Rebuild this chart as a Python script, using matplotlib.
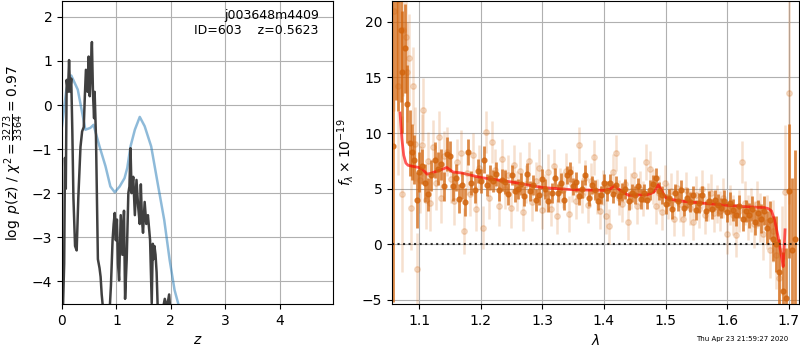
import matplotlib
matplotlib.use("Agg")
import matplotlib.pyplot as plt

# ---- p(z) panel ----
z_fit = [0.0, 0.08, 0.17, 0.29, 0.43, 0.52, 0.58, 0.69, 0.80, 0.89, 0.97, 1.06, 1.15,
         1.20, 1.26, 1.34, 1.43, 1.52, 1.64, 1.77, 1.88, 1.98, 2.07, 2.14, 2.20]
lnp_fit = [-0.48, 0.35, 0.67, 0.35, -0.56, -0.52, -0.45, -0.94, -1.39, -1.85, -1.98, -1.85, -1.66,
           -1.43, -0.94, -0.56, -0.27, -0.48, -0.94, -1.85, -2.61, -3.52, -4.2, -4.52, -5.0]

z_grid = [0.0, 0.02, 0.04, 0.055, 0.07, 0.086, 0.11, 0.13, 0.15, 0.17, 0.19, 0.21, 0.24, 0.27,
          0.30, 0.34, 0.37, 0.40, 0.42, 0.44, 0.47, 0.49, 0.51, 0.53, 0.55, 0.57, 0.59, 0.60,
          0.625, 0.66, 0.69, 0.71, 0.73, 0.76, 0.80, 0.84, 0.87, 0.90, 0.93, 0.95, 0.97, 0.99,
          1.01, 1.03, 1.05, 1.08, 1.11, 1.14, 1.16, 1.19, 1.22, 1.24, 1.26, 1.28, 1.31, 1.34,
          1.37, 1.40, 1.43, 1.45, 1.47, 1.49, 1.52, 1.55, 1.58, 1.62, 1.65, 1.67, 1.68, 1.70,
          1.72, 1.74, 1.76, 1.79, 1.83, 1.86, 1.89, 1.93, 1.97, 2.00]
lnp_grid = [-5.0, -4.5, -3.6, -1.2, -1.9, 0.57, 0.3, 1.02, 0.3, 0.6, -0.6, -2.1, -3.2, -3.3,
            -2.1, -0.95, -0.6, -0.5, 0.2, 0.8, 0.3, 1.1, 0.2, 0.8, 1.43, 0.25, -0.3, 0.3,
            -0.73, -3.5, -3.7, -3.9, -4.3, -4.7, -5.0, -5.0, -4.8, -4.1, -3.07, -2.7, -2.45, -3.07,
            -2.6, -3.6, -3.98, -2.5, -3.4, -2.4, -4.4, -3.5, -2.0, -1.85, -0.98, -2.0, -1.63, -2.5,
            -1.7, -2.3, -2.7, -1.8, -2.6, -2.9, -2.2, -2.7, -2.5, -3.07, -4.5, -3.15, -3.5, -3.2,
            -3.4, -3.8, -4.6, -5.0, -5.0, -4.6, -4.4, -4.6, -4.3, -4.8]

# ---- spectrum panel ----
wave_bin = [1.058, 1.062, 1.066, 1.070, 1.073, 1.077, 1.081, 1.085, 1.088, 1.092, 1.096,
            1.100, 1.105, 1.110, 1.115, 1.120, 1.125, 1.130, 1.135, 1.140, 1.145, 1.150,
            1.155, 1.160, 1.165, 1.170, 1.175, 1.180, 1.185, 1.190, 1.195, 1.200, 1.205,
            1.210, 1.215, 1.220, 1.225, 1.230, 1.235, 1.240, 1.245, 1.250, 1.255, 1.260,
            1.265, 1.270, 1.275, 1.280, 1.285, 1.290, 1.295, 1.300, 1.305, 1.310, 1.315,
            1.320, 1.325, 1.330, 1.335, 1.340, 1.345, 1.350, 1.355, 1.360, 1.365, 1.370,
            1.375, 1.380, 1.385, 1.390, 1.395, 1.400, 1.405, 1.410, 1.415, 1.420, 1.425,
            1.430, 1.435, 1.440, 1.445, 1.450, 1.455, 1.460, 1.465, 1.470, 1.475, 1.480,
            1.485, 1.490, 1.495, 1.500, 1.505, 1.510, 1.515, 1.520, 1.525, 1.530, 1.535,
            1.540, 1.545, 1.550, 1.555, 1.560, 1.565, 1.570, 1.575, 1.580, 1.585, 1.590,
            1.595, 1.600, 1.605, 1.610, 1.615, 1.620, 1.625, 1.630, 1.635, 1.640, 1.645,
            1.650, 1.655, 1.660, 1.665, 1.670, 1.675, 1.680, 1.685, 1.690, 1.695, 1.700,
            1.705, 1.710]
flux_bin = [8.8, 25.0, 22.0, 19.3, 15.5, 17.6, 12.6, 9.1, 8.3, 7.6, 4.0,
            6.5, 7.0, 5.5, 4.5, 6.2, 7.6, 6.8, 7.2, 5.2, 8.1, 7.9,
            5.2, 6.0, 4.1, 5.3, 3.8, 8.3, 5.5, 4.9, 6.6, 5.7, 7.6,
            5.3, 6.0, 5.7, 6.3, 4.9, 5.8, 5.6, 4.5, 6.2, 4.8, 5.0,
            5.4, 4.3, 6.3, 4.8, 5.3, 4.0, 4.4, 5.9, 5.0, 3.9, 4.6,
            6.0, 4.6, 5.5, 4.0, 6.2, 6.5, 5.2, 5.6, 4.3, 5.0, 6.2,
            4.2, 5.3, 4.9, 3.9, 4.4, 5.5, 4.8, 5.5, 4.5, 5.3, 4.3,
            4.7, 5.0, 3.9, 4.6, 4.4, 5.2, 4.1, 4.6, 4.0, 4.9, 5.4,
            6.0, 4.8, 4.4, 3.6, 4.2, 3.2, 4.6, 3.9, 4.9, 3.3, 4.2,
            3.8, 4.4, 3.1, 3.7, 4.4, 3.0, 3.9, 3.2, 4.0, 3.5, 3.3,
            3.9, 2.9, 3.7, 3.1, 2.6, 3.4, 2.3, 3.0, 2.6, 3.2, 2.0,
            2.8, 2.3, 3.0, 1.5, 2.2, 0.5, 0.0, -2.5, -4.2, -4.8, 4.8,
            -0.5, 0.5]
err_bin = [14.0, 12.0, 10.0, 6.5, 5.5, 4.0, 3.5, 3.0, 2.5, 2.2, 2.5,
           1.8, 1.6, 1.7, 1.5, 1.4, 1.6, 1.5, 1.4, 1.3, 1.5, 1.4,
           1.3, 1.2, 1.3, 1.2, 1.3, 1.2, 1.1, 1.2, 1.1, 1.1, 1.2,
           1.0, 1.1, 1.0, 1.1, 1.0, 1.0, 1.1, 1.0, 0.9, 1.0, 0.9,
           1.0, 0.9, 1.0, 0.9, 0.9, 1.0, 0.9, 0.9, 0.9, 1.0, 0.9,
           0.9, 0.8, 0.9, 0.9, 0.8, 0.9, 0.8, 0.9, 0.8, 0.8, 0.9,
           0.8, 0.8, 0.9, 0.8, 0.8, 0.8, 0.9, 0.8, 0.8, 0.8, 0.8,
           0.8, 0.9, 0.8, 0.8, 0.8, 0.8, 0.9, 0.8, 0.8, 0.9, 0.8,
           0.9, 0.8, 0.8, 0.9, 0.8, 0.9, 0.8, 0.9, 0.9, 0.8, 0.9,
           0.9, 0.8, 0.9, 0.9, 0.8, 0.9, 0.9, 0.9, 0.9, 1.0, 0.9,
           1.0, 0.9, 1.0, 1.0, 1.0, 1.0, 1.1, 1.0, 1.1, 1.1, 1.2,
           1.2, 1.3, 1.3, 1.5, 1.7, 2.0, 2.5, 3.0, 3.5, 4.5, 6.0,
           6.5, 8.0]

wave_raw = [1.060, 1.066, 1.072, 1.074, 1.078, 1.080, 1.083, 1.087, 1.090, 1.094, 1.097,
            1.101, 1.104, 1.107, 1.111, 1.114, 1.118, 1.122, 1.127, 1.132, 1.136, 1.141,
            1.146, 1.151, 1.157, 1.162, 1.168, 1.173, 1.178, 1.183, 1.188, 1.193, 1.198,
            1.204, 1.209, 1.214, 1.219, 1.224, 1.229, 1.234, 1.239, 1.244, 1.249, 1.254,
            1.259, 1.264, 1.269, 1.274, 1.279, 1.284, 1.289, 1.294, 1.299, 1.304, 1.309,
            1.314, 1.319, 1.324, 1.329, 1.334, 1.339, 1.344, 1.349, 1.354, 1.359, 1.364,
            1.369, 1.374, 1.379, 1.384, 1.389, 1.394, 1.399, 1.404, 1.409, 1.414, 1.419,
            1.424, 1.429, 1.434, 1.439, 1.444, 1.449, 1.454, 1.459, 1.464, 1.469, 1.474,
            1.479, 1.484, 1.489, 1.494, 1.499, 1.504, 1.509, 1.514, 1.519, 1.524, 1.529,
            1.534, 1.539, 1.544, 1.549, 1.554, 1.559, 1.564, 1.569, 1.574, 1.579, 1.584,
            1.589, 1.594, 1.599, 1.604, 1.609, 1.614, 1.619, 1.624, 1.629, 1.634, 1.639,
            1.644, 1.649, 1.654, 1.659, 1.664, 1.669, 1.674, 1.679, 1.684, 1.689, 1.694,
            1.700]
flux_raw = [21.0, 14.2, 4.5, 19.3, 18.6, 15.5, 16.7, 3.3, 14.2, 9.0, -2.2,
            5.8, 8.9, 12.1, 4.0, 7.5, 3.7, 8.7, 5.5, 9.6, 4.2, 7.9,
            8.3, 5.9, 3.9, 7.4, 8.2, 1.2, 6.4, 4.5, 8.0, 3.2, 6.9,
            1.5, 10.1, 4.2, 9.2, 6.7, 3.4, 7.7, 5.0, 6.2, 3.3, 7.1,
            4.8, 6.6, 2.9, 5.4, 7.5, 3.8, 5.7, 6.9, 3.1, 4.6, 6.5,
            3.2, 7.0, 2.5, 5.3, 4.9, 6.6, 2.7, 5.4, 3.9, 8.9, 4.4,
            6.0, 3.5, 5.7, 7.8, 4.3, 3.0, 5.1, 2.5, 1.6, 6.5, 8.2,
            4.2, 3.6, 5.4, 2.0, 4.8, 6.2, 3.4, 5.0, 4.1, 7.4, 6.8,
            5.2, 3.4, 4.6, 2.9, 5.5, 3.9, 4.8, 2.3, 5.1, 3.6, 2.3,
            4.9, 3.3, 2.0, 4.4, 3.2, 5.0, 2.6, 3.8, 4.6, 2.8, 3.6,
            3.0, 4.2, 0.9, 3.5, 2.6, 0.8, 3.0, 7.4, 3.7, 2.4, 3.1,
            1.8, 3.6, 2.4, 0.9, 2.0, -0.5, 1.2, -1.0, -3.0, -0.6, 4.7,
            13.6]
err_raw = [9.0, 8.0, 7.0, 6.0, 5.0, 4.5, 4.0, 3.8, 3.5, 3.3, 3.2,
           3.0, 2.8, 2.8, 2.6, 2.6, 2.5, 2.5, 2.4, 2.4, 2.3, 2.3,
           2.2, 2.2, 2.2, 2.1, 2.1, 2.1, 2.0, 2.0, 2.0, 2.0, 2.0,
           1.9, 1.9, 1.9, 1.9, 1.9, 1.8, 1.8, 1.8, 1.8, 1.8, 1.8,
           1.8, 1.7, 1.7, 1.7, 1.7, 1.7, 1.7, 1.7, 1.7, 1.7, 1.6,
           1.6, 1.6, 1.6, 1.6, 1.6, 1.6, 1.6, 1.6, 1.6, 1.6, 1.6,
           1.6, 1.6, 1.6, 1.6, 1.6, 1.6, 1.6, 1.6, 1.6, 1.6, 1.6,
           1.6, 1.6, 1.6, 1.6, 1.6, 1.6, 1.6, 1.6, 1.6, 1.6, 1.6,
           1.6, 1.6, 1.6, 1.6, 1.6, 1.6, 1.6, 1.6, 1.6, 1.6, 1.6,
           1.6, 1.6, 1.6, 1.7, 1.7, 1.7, 1.7, 1.7, 1.7, 1.7, 1.7,
           1.8, 1.8, 1.8, 1.8, 1.8, 1.9, 1.9, 1.9, 2.0, 2.0, 2.0,
           2.1, 2.1, 2.2, 2.3, 2.4, 2.5, 2.8, 3.0, 3.5, 4.0, 6.0,
           10.0]

wave_model = [1.069, 1.072, 1.075, 1.0785, 1.082, 1.090, 1.100, 1.106, 1.113, 1.120, 1.130,
              1.140, 1.145, 1.150, 1.155, 1.170, 1.200, 1.250, 1.300, 1.350, 1.400, 1.410,
              1.417, 1.425, 1.440, 1.470, 1.478, 1.483, 1.488, 1.494, 1.500, 1.520, 1.560,
              1.600, 1.640, 1.660, 1.667, 1.672, 1.677, 1.683, 1.688, 1.691, 1.694]
flux_model = [11.8, 9.5, 8.0, 7.3, 7.1, 7.0, 6.9, 6.7, 6.3, 6.4, 6.6,
              6.8, 6.9, 6.7, 6.5, 6.4, 6.0, 5.6, 5.1, 4.9, 4.85, 4.95,
              5.3, 4.9, 4.4, 4.45, 4.6, 4.8, 5.35, 4.8, 4.2, 3.9, 3.7,
              3.5, 3.35, 3.3, 3.2, 3.0, 2.2, 0.6, -1.0, -2.0, 1.3]

zbest = 0.5623
chi2, npix = 3273, 3364
orange = '#d2640c'

fig = plt.figure(figsize=(8, 3.5), dpi=100)
ax1 = fig.add_axes([0.0775, 0.131, 0.3385, 0.866])
ax2 = fig.add_axes([0.49, 0.131, 0.509, 0.866])

# p(z)
ax1.plot(z_fit, lnp_fit, color='tab:blue', alpha=0.5, lw=1.8)
ax1.plot(z_grid, lnp_grid, color='0.25', lw=1.8)
ax1.set_xlim(0, 4.98)
ax1.set_ylim(-4.52, 2.36)
ax1.set_xticks([0, 1, 2, 3, 4])
ax1.set_yticks([-4, -3, -2, -1, 0, 1, 2])
ax1.grid(True)
ax1.set_xlabel('$z$')
ax1.set_ylabel(r'$\log\ p(z)$ / $\chi^2=\frac{%d}{%d}=%.2f$' % (chi2, npix, chi2 / npix))
ax1.text(0.948, 0.975, 'j003648m4409\nID=603    z=%.4f' % zbest, transform=ax1.transAxes,
         ha='right', va='top', fontsize=9)

# spectrum
ax2.errorbar(wave_raw, flux_raw, yerr=err_raw, fmt='o', color=orange, alpha=0.2,
             markersize=4, elinewidth=1.8, linestyle='none')
ax2.errorbar(wave_bin, flux_bin, yerr=err_bin, fmt='o', color=orange, alpha=0.75,
             markersize=3.5, elinewidth=2, linestyle='none')
ax2.plot(wave_model, flux_model, color='r', alpha=0.65, lw=2)
ax2.axhline(0, color='k', linestyle=':', lw=1.5, alpha=0.8)
ax2.set_xlim(1.056, 1.717)
ax2.set_ylim(-5.38, 21.86)
ax2.set_xticks([1.1, 1.2, 1.3, 1.4, 1.5, 1.6, 1.7])
ax2.set_yticks([-5, 0, 5, 10, 15, 20])
ax2.grid(True)
ax2.set_xlabel(r'$\lambda$')
ax2.set_ylabel(r'$f_\lambda \times 10^{-19}$')

fig.text(0.985, 0.031, 'Thu Apr 23 21:59:27 2020', ha='right', va='center', fontsize=5)

fig.savefig('out.png', dpi=100)
